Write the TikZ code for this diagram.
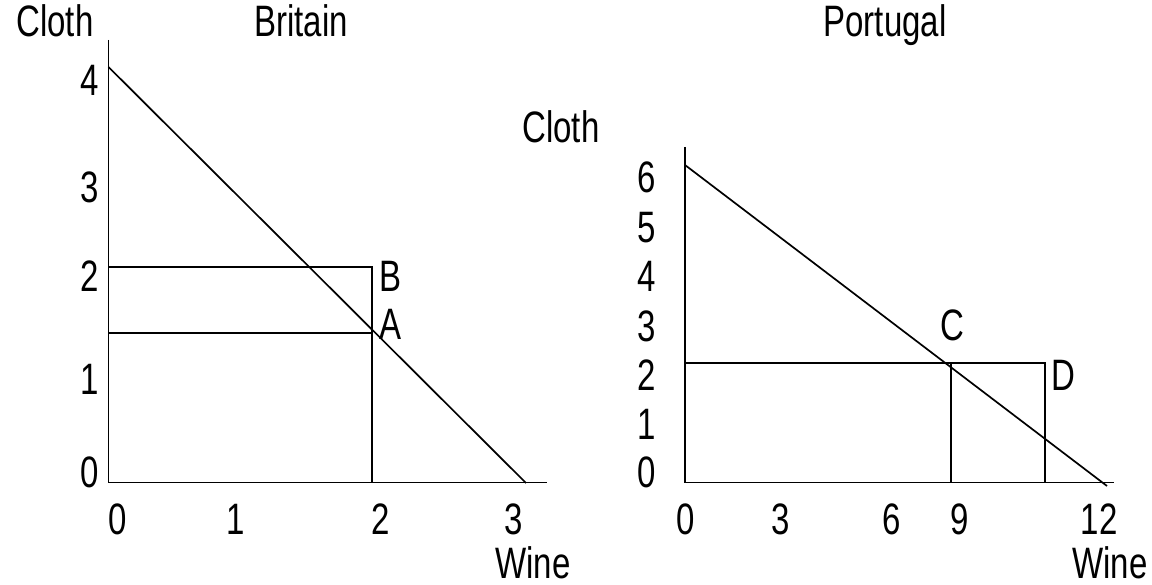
\documentclass[tikz,border=0pt]{standalone}
\usepackage{fontspec}
\setmainfont{Liberation Sans}
\begin{document}
\begin{tikzpicture}[x=1pt,y=-1pt,
  lbl/.style={inner sep=0pt, anchor=base, font=\fontsize{44}{50}\selectfont, xscale=0.75},
  ln/.style={line width=1.7pt}]
\useasboundingbox (0,0) rectangle (1152,585);
% ---------- Britain ----------
\coordinate (bO) at (108.5,482.5);
\coordinate (bTop) at (108.5,40);
\coordinate (bXend) at (547,482.5);
\coordinate (bP0) at (108.5,67);
\coordinate (bP1) at (526,483);
\coordinate (bBy) at (108.5,267);
\coordinate (bB) at (372,267);
\coordinate (bAy) at (108.5,333);
\coordinate (bA) at (372,333);
\coordinate (bAx) at (372,482.5);
\draw[ln] (bTop) -- (bO) -- (bXend);
\draw[ln] (bP0) -- (bP1);
\draw[ln] (bBy) -- (bB) -- (bAx);
\draw[ln] (bAy) -- (bA);
\node[lbl] (bCloth) at (55,37) {Cloth};
\node[lbl] (bTitle) at (301,37) {Britain};
\node[lbl] (bL4) at (90,96) {4};
\node[lbl] (bL3) at (90,203) {3};
\node[lbl] (bL2) at (90,292) {2};
\node[lbl] (bL1) at (90,395) {1};
\node[lbl] (bL0) at (90,487) {0};
\node[lbl] (bX0) at (118,534) {0};
\node[lbl] (bX1) at (236,534) {1};
\node[lbl] (bX2) at (381,534) {2};
\node[lbl] (bX3) at (514,534) {3};
\node[lbl] (bWine) at (533,578) {Wine};
\node[lbl] (labB) at (391,292) {B};
\node[lbl] (labA) at (391,340) {A};
% ---------- Portugal ----------
\coordinate (pO) at (685,482.5);
\coordinate (pTop) at (685,147);
\coordinate (pXend) at (1114,482.5);
\coordinate (pP0) at (685,165);
\coordinate (pP1) at (1107,486);
\coordinate (pCy) at (685,363);
\coordinate (pC) at (951,363);
\coordinate (pCx) at (951,482.5);
\coordinate (pD) at (1045,363);
\coordinate (pDx) at (1045,482.5);
\draw[ln] (pTop) -- (pO) -- (pXend);
\draw[ln] (pP0) -- (pP1);
\draw[ln] (pCy) -- (pD) -- (pDx);
\draw[ln] (pC) -- (pCx);
\node[lbl] (pTitle) at (885,37) {Portugal};
\node[lbl] (pCloth) at (561,143) {Cloth};
\node[lbl] (pL6) at (647,193) {6};
\node[lbl] (pL5) at (647,243) {5};
\node[lbl] (pL4) at (647,292) {4};
\node[lbl] (pL3) at (647,342) {3};
\node[lbl] (pL2) at (647,391) {2};
\node[lbl] (pL1) at (647,439) {1};
\node[lbl] (pL0) at (647,487) {0};
\node[lbl] (pX0) at (686,534) {0};
\node[lbl] (pX3) at (781,534) {3};
\node[lbl] (pX6) at (892,534) {6};
\node[lbl] (pX9) at (960,534) {9};
\node[lbl] (pX12) at (1099,534) {12};
\node[lbl] (pWine) at (1110,578) {Wine};
\node[lbl] (labC) at (952,341) {C};
\node[lbl] (labD) at (1063,391) {D};
\end{tikzpicture}
\end{document}
